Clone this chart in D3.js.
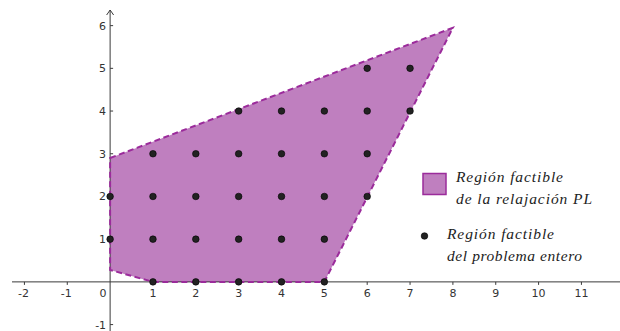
<!DOCTYPE html>
<html>
<head>
<meta charset="utf-8">
<script src="https://cdn.jsdelivr.net/npm/d3@7"></script>
<style>
  body { margin: 0; background: #fff; }
  svg { display: block; }
  .legend text { font-family: "Liberation Serif", "DejaVu Serif", serif; font-style: italic; font-size: 15.5px; fill: #222; }
</style>
</head>
<body>
<svg id="chart" width="620" height="331"></svg>
<script>
// Vertices of the LP relaxation feasible region
const regionX = [0, 8, 5, 1, 0];
const regionY = [2.9, 5.95, 0, 0, 0.28];

// Integer feasible points, grouped by row
const pointRows = [0, 1, 2, 3, 4, 5];
const pointCols = [
  [1, 2, 3, 4, 5],
  [0, 1, 2, 3, 4, 5],
  [0, 1, 2, 3, 4, 5, 6],
  [1, 2, 3, 4, 5, 6],
  [3, 4, 5, 6, 7],
  [6, 7]
];

const xTicks = [-2, -1, 1, 2, 3, 4, 5, 6, 7, 8, 9, 10, 11];
const yTicks = [-1, 1, 2, 3, 4, 5, 6];

const legendRegion = ["Región factible", "de la relajación PL"];
const legendPoints = ["Región factible", "del problema entero"];

const W = 620, H = 331;
const svg = d3.select("#chart");

const x = d3.scaleLinear().domain([-2.57, 11.9]).range([0, W]);
const y = d3.scaleLinear().domain([-1.15, 6.6]).range([H, 0]);

const axisColor = "#3a3a3a";
const fillColor = "#bf7fbf";
const strokeColor = "#9b2b9b";

// Feasible polygon of the relaxation
const poly = regionX.map((v, i) => [x(v), y(regionY[i])]);
svg.append("path")
  .attr("d", d3.line()(poly) + "Z")
  .attr("fill", fillColor)
  .attr("stroke", "none");

// Axes
svg.append("line")
  .attr("x1", 12).attr("x2", W)
  .attr("y1", y(0)).attr("y2", y(0))
  .attr("stroke", axisColor).attr("stroke-width", 1);
svg.append("line")
  .attr("x1", x(0)).attr("x2", x(0))
  .attr("y1", 10).attr("y2", H)
  .attr("stroke", axisColor).attr("stroke-width", 1);
// arrow head on the vertical axis
svg.append("path")
  .attr("d", `M${x(0) - 3.5},${15} L${x(0)},${10} L${x(0) + 3.5},${15}`)
  .attr("fill", "none").attr("stroke", axisColor).attr("stroke-width", 1);

// Tick marks and labels
const tickFont = "'DejaVu Sans', sans-serif";
svg.selectAll(".xt").data(xTicks).enter().append("line")
  .attr("x1", d => x(d)).attr("x2", d => x(d))
  .attr("y1", y(0)).attr("y2", y(0) + 3)
  .attr("stroke", axisColor);
svg.selectAll(".xl").data(xTicks).enter().append("text")
  .attr("x", d => x(d) + (d < 0 ? -1 : 0))
  .attr("y", y(0) + 15)
  .attr("text-anchor", "middle")
  .attr("font-family", tickFont).attr("font-size", 11)
  .attr("fill", "#333")
  .text(d => d);
svg.append("text")
  .attr("x", x(0) - 7).attr("y", y(0) + 15)
  .attr("text-anchor", "middle")
  .attr("font-family", tickFont).attr("font-size", 11)
  .attr("fill", "#333")
  .text("0");

svg.selectAll(".yt").data(yTicks).enter().append("line")
  .attr("x1", x(0)).attr("x2", x(0) + 3)
  .attr("y1", d => y(d)).attr("y2", d => y(d))
  .attr("stroke", axisColor);
svg.selectAll(".yl").data(yTicks).enter().append("text")
  .attr("x", x(0) - 4)
  .attr("y", d => y(d) + 4)
  .attr("text-anchor", "end")
  .attr("font-family", tickFont).attr("font-size", 11)
  .attr("fill", "#333")
  .text(d => d);

// Dashed border of the polygon (drawn over the axes)
svg.append("path")
  .attr("d", d3.line()(poly) + "Z")
  .attr("fill", "none")
  .attr("stroke", strokeColor)
  .attr("stroke-width", 2)
  .attr("stroke-dasharray", "6,3.5");

// Integer points
const pts = [];
pointRows.forEach((r, i) => pointCols[i].forEach(c => pts.push([c, r])));
svg.selectAll(".pt").data(pts).enter().append("circle")
  .attr("cx", d => x(d[0])).attr("cy", d => y(d[1]))
  .attr("r", 3.3)
  .attr("fill", "#222").attr("stroke", "#000").attr("stroke-width", 0.6);

// Legend
const leg = svg.append("g").attr("class", "legend");
leg.append("rect")
  .attr("x", 423).attr("y", 173.5).attr("width", 23).attr("height", 21)
  .attr("fill", fillColor).attr("stroke", strokeColor).attr("stroke-width", 1.5);
leg.append("circle")
  .attr("cx", 424.5).attr("cy", 236).attr("r", 3.3)
  .attr("fill", "#222").attr("stroke", "#000").attr("stroke-width", 0.6);
const legendLines = [
  { t: legendRegion[0], x: 456, y: 182, w: 107 },
  { t: legendRegion[1], x: 456, y: 204, w: 136 },
  { t: legendPoints[0], x: 447, y: 239, w: 107 },
  { t: legendPoints[1], x: 447, y: 261, w: 135 }
];
leg.selectAll(".lt").data(legendLines).enter().append("text")
  .attr("x", d => d.x).attr("y", d => d.y)
  .attr("textLength", d => d.w)
  .attr("lengthAdjust", "spacing")
  .text(d => d.t);
</script>
</body>
</html>
